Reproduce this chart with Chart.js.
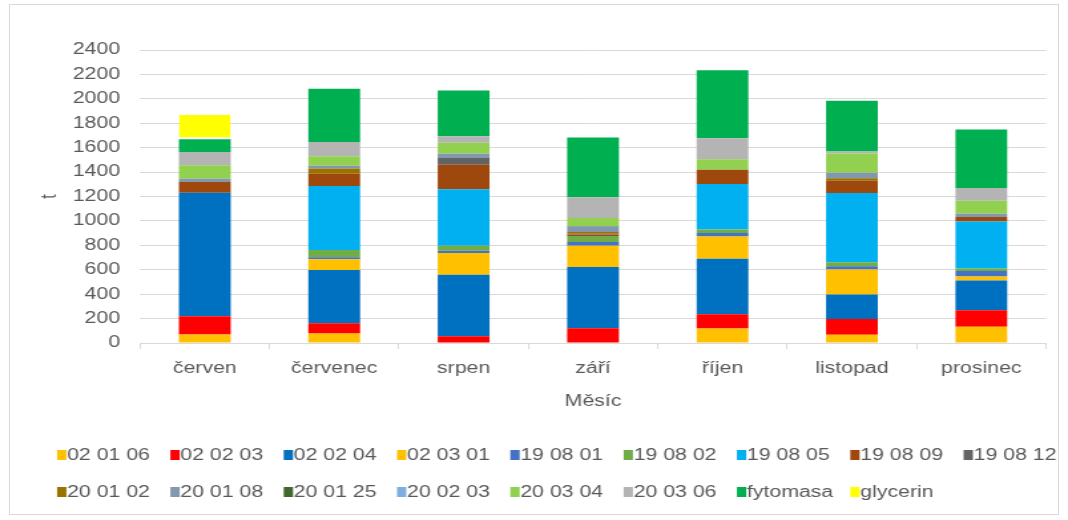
<!DOCTYPE html>
<html>
<head>
<meta charset="utf-8">
<script src="https://cdn.jsdelivr.net/npm/chart.js@4/dist/chart.umd.min.js"></script>
<style>
  html, body { margin: 0; padding: 0; background: #fff; }
  #frame { position: absolute; left: 9px; top: 4px; width: 1050px; height: 511px; border: 1px solid #d9d9d9; box-sizing: border-box; }
  #wrap { position: absolute; left: 0; top: 0; width: 803px; height: 520px; transform: scaleX(1.33); transform-origin: 0 0; }
</style>
</head>
<body>
<div id="frame"></div>
<div id="wrap"><canvas id="c" width="803" height="520"></canvas></div>
<script>
const months = ['červen', 'červenec', 'srpen', 'září', 'říjen', 'listopad', 'prosinec'];

const codes = ['02 01 06', '02 02 03', '02 02 04', '02 03 01', '19 08 01', '19 08 02', '19 08 05', '19 08 09', '19 08 12',
  '20 01 02', '20 01 08', '20 01 25', '20 02 03', '20 03 04', '20 03 06', 'fytomasa', 'glycerin'];

// tonnes per month, one array per waste code
const w020106 = [70, 77, 0, 0, 118, 68, 134];
const w020203 = [150, 85, 55, 120, 118, 129, 134];
const w020204 = [1010, 436, 504, 502, 455, 200, 244];
const w020301 = [0, 88, 178, 175, 181, 205, 33];
const w190801 = [0, 16, 19, 30, 30, 27, 44];
const w190802 = [0, 60, 41, 50, 27, 33, 22];
const w190805 = [0, 523, 463, 0, 373, 567, 384];
const w190809 = [88, 101, 200, 12, 118, 99, 38];
const w190812 = [0, 0, 55, 6, 0, 0, 0];
const w200102 = [0, 44, 0, 15, 0, 22, 0];
const w200108 = [27, 22, 36, 45, 0, 44, 25];
const w200125 = [0, 0, 0, 3, 0, 0, 0];
const w200203 = [0, 0, 0, 0, 0, 0, 0];
const w200304 = [110, 77, 90, 65, 85, 159, 107];
const w200306 = [110, 118, 52, 170, 173, 16, 104];
const fytomasa = [104, 436, 375, 490, 556, 416, 480];
const glycerin = [200, 0, 0, 0, 0, 0, 0];

const yTicks = [0, 200, 400, 600, 800, 1000, 1200, 1400, 1600, 1800, 2000, 2200, 2400];

const series = [w020106, w020203, w020204, w020301, w190801, w190802, w190805, w190809, w190812,
  w200102, w200108, w200125, w200203, w200304, w200306, fytomasa, glycerin];
const colors = ['#FFC000', '#FF0000', '#0070C0', '#FFC000', '#4472C4', '#70AD47', '#00B0F0', '#9E480E', '#636363',
  '#997300', '#8497B0', '#43682B', '#7CAFDD', '#92D050', '#B4B4B4', '#00B050', '#FFFF00'];

const FONT = '"Liberation Sans", Arial, sans-serif';
const GREY = '#595959';

const datasets = series.map((vals, i) => ({
  label: codes[i],
  data: vals,
  backgroundColor: colors[i],
  borderWidth: codes[i] === 'glycerin' ? { top: 0, left: 0, right: 0, bottom: 2 } : 0,
  borderColor: '#ffffff',
  borderSkipped: false,
  barPercentage: 0.4,
  categoryPercentage: 1.0
}));

// two-row legend under the axis title
const rowLegend = {
  id: 'rowLegend',
  afterDraw(chart) {
    const ctx = chart.ctx;
    ctx.save();
    ctx.font = '16px ' + FONT;
    ctx.textBaseline = 'middle';
    chart.data.datasets.forEach((ds, i) => {
      const row = Math.floor(i / 9);
      const col = i % 9;
      const x = 42.9 + col * 85.2;
      const y = 455 + row * 37;
      ctx.fillStyle = ds.backgroundColor;
      ctx.fillRect(x, y - 5, 7, 10);
      ctx.fillStyle = GREY;
      ctx.fillText(ds.label, x + 7.5, y + 1);
    });
    ctx.restore();
  }
};

new Chart(document.getElementById('c'), {
  type: 'bar',
  data: { labels: months, datasets: datasets },
  plugins: [rowLegend],
  options: {
    responsive: false,
    animation: false,
    layout: { padding: { left: 24, right: 16.5, top: 50, bottom: 105 } },
    plugins: {
      legend: { display: false },
      tooltip: { enabled: false }
    },
    scales: {
      x: {
        stacked: true,
        grid: { offset: true, drawOnChartArea: false, color: '#d9d9d9', tickLength: 6 },
        border: { color: '#d9d9d9' },
        ticks: { color: GREY, font: { family: FONT, size: 16 }, padding: 10 },
        title: { display: true, text: 'Měsíc', color: GREY, font: { family: FONT, size: 16 } },
        afterFit: s => { s.height = 72; }
      },
      y: {
        stacked: true,
        min: 0,
        max: 2400,
        afterBuildTicks: s => { s.ticks = yTicks.map(v => ({ value: v })); },
        grid: { color: '#d9d9d9', drawTicks: false },
        border: { display: false },
        ticks: { color: GREY, font: { family: FONT, size: 16 }, padding: 15, callback: v => String(v) },
        title: { display: true, text: 't', color: GREY, font: { family: FONT, size: 16 } },
        afterFit: s => { s.width = 81.3; }
      }
    }
  }
});
</script>
</body>
</html>
